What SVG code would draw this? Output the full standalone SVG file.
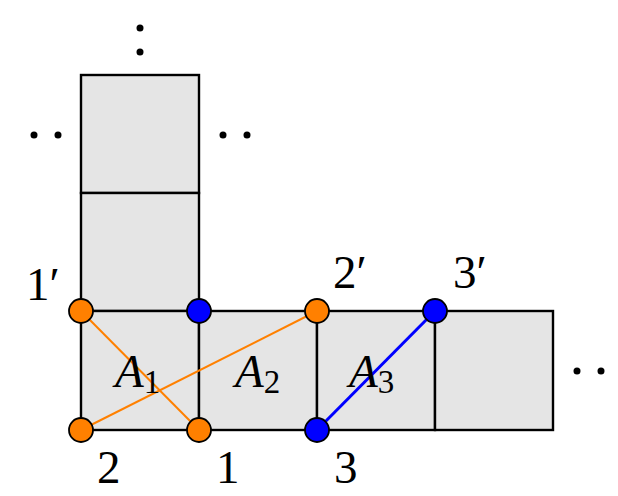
<svg xmlns="http://www.w3.org/2000/svg" width="618" height="496" viewBox="0 0 618 496">
<style>
.cell{fill:#e5e5e5;stroke:#000;stroke-width:2.4}
.node{stroke:#000;stroke-width:1.8}
.or{fill:#ff8000}
.bl{fill:#0000ff}
.t{font-family:"Liberation Serif","DejaVu Serif",serif;font-size:47px;fill:#000}
.it{font-style:italic}
.sub{font-size:33px}
.dot{fill:#000}
</style>
<rect width="618" height="496" fill="#fff"/>
<g id="cells">
<rect class="cell" x="81" y="75" width="118" height="118"/>
<rect class="cell" x="81" y="193" width="118" height="118"/>
<rect class="cell" x="81" y="311" width="118" height="119"/>
<rect class="cell" x="199" y="311" width="118" height="119"/>
<rect class="cell" x="317" y="311" width="118" height="119"/>
<rect class="cell" x="435" y="311" width="118" height="119"/>
</g>
<g id="dots">
<circle class="dot" cx="140" cy="28" r="3.5"/>
<circle class="dot" cx="140" cy="52" r="3.5"/>
<circle class="dot" cx="34" cy="135" r="3.5"/>
<circle class="dot" cx="58" cy="135" r="3.5"/>
<circle class="dot" cx="223" cy="135" r="3.5"/>
<circle class="dot" cx="247" cy="135" r="3.5"/>
<circle class="dot" cx="577" cy="371" r="3.5"/>
<circle class="dot" cx="601" cy="371" r="3.5"/>
</g>
<g id="connectors">
<line x1="81" y1="311" x2="199" y2="430" stroke="#ff8000" stroke-width="2"/>
<line x1="81" y1="430" x2="317" y2="311" stroke="#ff8000" stroke-width="2"/>
<line x1="317" y1="430" x2="435" y2="311" stroke="#0000ff" stroke-width="3"/>
</g>
<g id="n1p"><circle class="node or" cx="81" cy="311" r="12"/></g>
<g id="n2"><circle class="node or" cx="81" cy="430" r="12"/></g>
<g id="n1"><circle class="node or" cx="199" cy="430" r="12"/></g>
<g id="n2p"><circle class="node or" cx="317" cy="311" r="12"/></g>
<g id="nb1"><circle class="node bl" cx="199" cy="311" r="12"/></g>
<g id="n3"><circle class="node bl" cx="317" cy="430" r="12"/></g>
<g id="n3p"><circle class="node bl" cx="435" cy="311" r="12"/></g>
<g id="labels">
<text class="t" x="26" y="300">1′</text>
<text class="t" x="333" y="288">2′</text>
<text class="t" x="453" y="288">3′</text>
<text class="t" x="97" y="483">2</text>
<text class="t" x="216" y="483">1</text>
<text class="t" x="334" y="483">3</text>
<text class="t" x="115" y="387"><tspan class="it">A</tspan><tspan class="sub" dy="6">1</tspan></text>
<text class="t" x="235" y="387"><tspan class="it">A</tspan><tspan class="sub" dy="6">2</tspan></text>
<text class="t" x="349" y="387"><tspan class="it">A</tspan><tspan class="sub" dy="6">3</tspan></text>
</g>
</svg>
